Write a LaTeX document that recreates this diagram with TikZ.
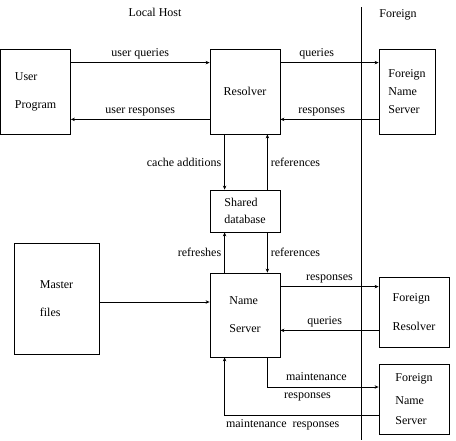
\documentclass[tikz,border=0pt]{standalone}
\usepackage{fontspec}
\setmainfont{Liberation Serif}
\usetikzlibrary{arrows.meta}

\tikzset{
  box/.style={draw, line width=0.8pt, align=left, inner sep=0pt},
  link/.style={draw, line width=0.8pt, -{Stealth[length=4pt,width=3.5pt]}},
  lbl/.style={inner sep=3pt}
}

\begin{document}
\begin{tikzpicture}[x=1pt, y=-1pt, font=\fontsize{12}{14}\selectfont]
            \useasboundingbox (0,0) rectangle (456,440);

            % Headings and the host border
            \node (local) at (155,12) {Local Host};
            \node (foreign) at (398,15) {Foreign};
            \draw[line width=0.8pt] (361,7) -- (361,440);

            % Local boxes
            \node[box, minimum width=70pt, minimum height=85pt] (user) at (35.5,91.5) {User\\[14pt]Program};
            \node[box, minimum width=70pt, minimum height=85pt] (res) at (245,91.5) {Resolver};
            \node[box, minimum width=70pt, minimum height=42pt] (db) at (245,211) {Shared\\[3pt]database};
            \node[box, minimum width=85pt, minimum height=111pt] (master) at (56.5,298.5) {Master\\[14pt]files};
            \node[box, minimum width=70pt, minimum height=84pt] (ns) at (245,315) {Name\\[14pt]Server};

            % Foreign boxes
            \node[box, minimum width=56pt, minimum height=85pt] (fns) at (407,91.5) {Foreign\\[4pt]Name\\[4pt]Server};
            \node[box, minimum width=70pt, minimum height=70pt] (fres) at (414,312) {Foreign\\[15pt]Resolver};
            \node[box, minimum width=70pt, minimum height=70pt] (fns2) at (414,399) {Foreign\\[9pt]Name\\[6pt]Server};

            % User program and resolver
            \draw[link] ([yshift=-14pt]user.north east) -- node[lbl, above] (uq) {user queries} ([yshift=-14pt]res.north west);
            \draw[link] ([yshift=15pt]res.south west) -- node[lbl, above] (ur) {user responses} ([yshift=15pt]user.south east);
            \draw[link] ([yshift=-14pt]res.north east) -- node[lbl, above, pos=.37] (rq) {queries} ([yshift=-14pt]fns.north west);
            \draw[link] ([yshift=15pt]fns.south west) -- node[lbl, above, pos=.58] (rr) {responses} ([yshift=15pt]res.south east);

            % Shared database
            \draw[link] ([xshift=15pt]res.south west) -- node[lbl, left] (ca) {cache additions} ([xshift=15pt]db.north west);
            \draw[link] ([xshift=-13pt]db.north east) -- node[lbl, right] (ref1) {references} ([xshift=-13pt]res.south east);
            \draw[link] ([xshift=15pt]ns.north west) -- node[lbl, left] (rf) {refreshes} ([xshift=15pt]db.south west);
            \draw[link] ([xshift=-13pt]db.south east) -- node[lbl, right] (ref2) {references} ([xshift=-13pt]ns.north east);

            % Name server
            \draw[link] (master.east) ++(0,3.5) coordinate (m1) -- (m1 -| ns.west);
            \draw[link] ([yshift=-14pt]ns.north east) coordinate (r1) -- node[lbl, above] (nr) {responses} (r1 -| fres.west);
            \draw[link] ([yshift=17pt]fres.south west) coordinate (q1) -- node[lbl, above, pos=.55] (nq) {queries} (q1 -| ns.east);
            \draw[link] ([xshift=-13pt]ns.south east) |- node[above, inner sep=6pt, pos=.72] (mt) {maintenance}
                        node[below, inner sep=5pt, pos=.68] (mr) {responses} ([yshift=12pt]fns2.west);
            \draw[link] ([yshift=-16pt]fns2.west) -| node[below right, inner sep=4pt, xshift=-3pt, pos=.5] (mrs) {maintenance\enspace responses} ([xshift=15pt]ns.south west);
        \end{tikzpicture}
\end{document}
